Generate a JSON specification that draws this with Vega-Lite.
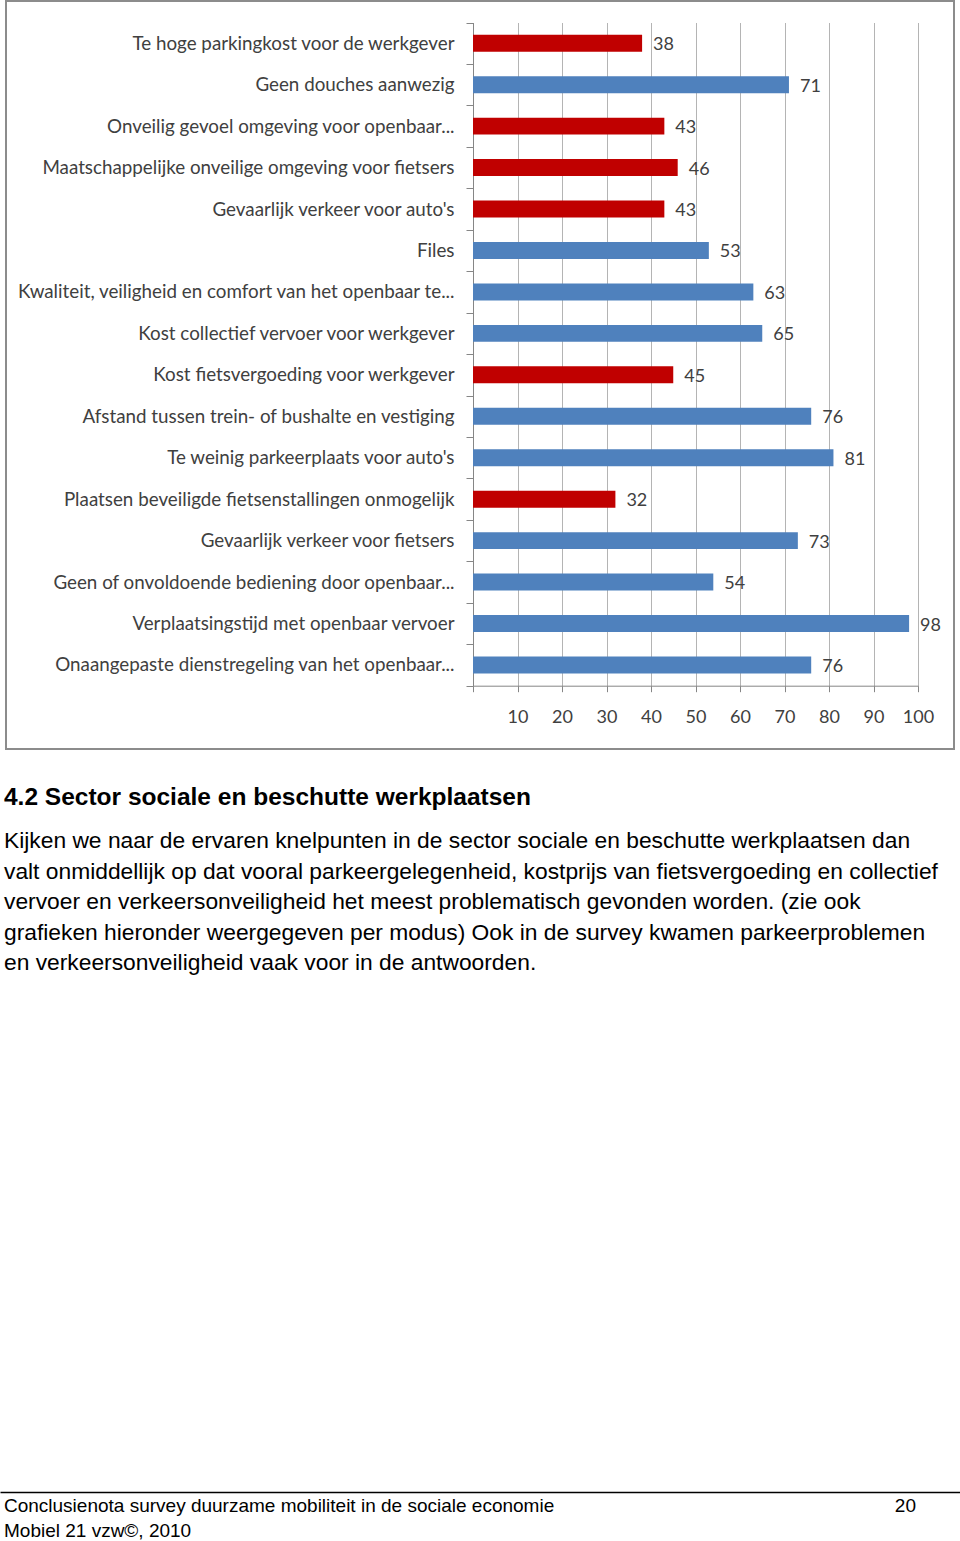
{
  "$schema": "https://vega.github.io/schema/vega-lite/v6.json",
  "background": "white",
  "padding": {"left": 3, "top": -9, "right": 0, "bottom": 0},
  "spacing": 34,
  "config": {
    "font": "Liberation Sans",
    "view": {"stroke": null}
  },
  "datasets": {
    "knelpunten": [
      {"knelpunt": "Te hoge parkingkost voor de werkgever", "percentage": 38},
      {"knelpunt": "Geen douches aanwezig", "percentage": 71},
      {"knelpunt": "Onveilig gevoel omgeving voor openbaar...", "percentage": 43},
      {"knelpunt": "Maatschappelijke onveilige omgeving voor fietsers", "percentage": 46},
      {"knelpunt": "Gevaarlijk verkeer voor auto's", "percentage": 43},
      {"knelpunt": "Files", "percentage": 53},
      {"knelpunt": "Kwaliteit, veiligheid en comfort van het openbaar te...", "percentage": 63},
      {"knelpunt": "Kost collectief vervoer voor werkgever", "percentage": 65},
      {"knelpunt": "Kost fietsvergoeding voor werkgever", "percentage": 45},
      {"knelpunt": "Afstand tussen trein- of bushalte en vestiging", "percentage": 76},
      {"knelpunt": "Te weinig parkeerplaats voor auto's", "percentage": 81},
      {"knelpunt": "Plaatsen beveiligde fietsenstallingen onmogelijk", "percentage": 32},
      {"knelpunt": "Gevaarlijk verkeer voor fietsers", "percentage": 73},
      {"knelpunt": "Geen of onvoldoende bediening door openbaar...", "percentage": 54},
      {"knelpunt": "Verplaatsingstijd met openbaar vervoer", "percentage": 98},
      {"knelpunt": "Onaangepaste dienstregeling van het openbaar...", "percentage": 76}
    ],
    "voettekst": [
      {"tekst": "Conclusienota survey duurzame mobiliteit in de sociale economie", "kolom": "links", "regel": 1},
      {"tekst": "20", "kolom": "rechts", "regel": 1},
      {"tekst": "Mobiel 21 vzw©, 2010", "kolom": "links", "regel": 2}
    ]
  },
  "vconcat": [
    {
      "width": 948,
      "height": 748,
      "view": {"stroke": "#8c8c8c", "strokeWidth": 2},
      "data": {"name": "knelpunten"},
      "encoding": {
        "y": {
          "field": "knelpunt",
          "type": "nominal",
          "sort": null,
          "scale": {"range": [21.5, 684.7], "paddingInner": 0, "paddingOuter": 0},
          "axis": {
            "orient": "left",
            "offset": -467,
            "title": null,
            "grid": false,
            "domainColor": "#868686",
            "tickColor": "#868686",
            "tickSize": 7,
            "tickBand": "extent",
            "labelPadding": 12,
            "labelFont": "Lato",
            "labelFontSize": 18.8,
            "labelColor": "#404040",
            "labelLimit": 470
          }
        }
      },
      "layer": [
        {
          "mark": {"type": "bar", "height": {"band": 0.41}},
          "encoding": {
            "x": {
              "field": "percentage",
              "type": "quantitative",
              "scale": {"domain": [0, 100], "range": [467, 912]},
              "axis": {
                "orient": "bottom",
                "offset": -63.3,
                "title": null,
                "values": [0, 10, 20, 30, 40, 50, 60, 70, 80, 90, 100],
                "labelExpr": "datum.value === 0 ? '' : datum.label",
                "grid": false,
                "domainColor": "#868686",
                "tickColor": "#868686",
                "tickSize": 6,
                "labelPadding": 17,
                "labelFont": "Lato",
                "labelFontSize": 18,
                "labelColor": "#404040",
                "labelFlush": false
              }
            },
            "color": {
              "condition": {"test": "datum.percentage < 50", "value": "#C00000"},
              "value": "#4F81BD"
            }
          }
        },
        {
          "mark": {"type": "text", "align": "left", "dx": 11, "dy": 2, "font": "Lato", "fontSize": 18, "color": "#404040"},
          "encoding": {
            "x": {
              "field": "percentage",
              "type": "quantitative",
              "axis": {
                "orient": "top",
                "title": null,
                "values": [10, 20, 30, 40, 50, 60, 70, 80, 90, 100],
                "grid": true,
                "gridColor": "#b4b4b4",
                "domain": false,
                "ticks": false,
                "labels": false
              }
            },
            "text": {"field": "percentage", "type": "quantitative"}
          }
        }
      ],
      "resolve": {"axis": {"x": "independent"}}
    },
    {
      "width": 948,
      "height": 49,
      "title": {
        "text": "4.2 Sector sociale en beschutte werkplaatsen",
        "subtitle": [
          "Kijken we naar de ervaren knelpunten in de sector sociale en beschutte werkplaatsen dan",
          "valt onmiddellijk op dat vooral parkeergelegenheid, kostprijs van fietsvergoeding en collectief",
          "vervoer en verkeersonveiligheid het meest problematisch gevonden worden. (zie ook",
          "grafieken hieronder weergegeven per modus) Ook in de survey kwamen parkeerproblemen",
          "en verkeersonveiligheid vaak voor in de antwoorden."
        ],
        "anchor": "start",
        "dx": 0,
        "font": "Liberation Sans",
        "fontSize": 24.5,
        "fontWeight": "bold",
        "color": "black",
        "subtitleFont": "Liberation Sans",
        "subtitleFontSize": 22.8,
        "subtitleColor": "black",
        "subtitleLineHeight": 30.5,
        "subtitlePadding": 20,
        "offset": 516
      },
      "data": {"name": "voettekst"},
      "encoding": {
        "x": {
          "field": "kolom",
          "type": "nominal",
          "scale": {"type": "point", "domain": ["links", "rechts"], "range": [-6, 954], "padding": 0.0263, "align": 0.083},
          "axis": {"orient": "top", "labels": false, "ticks": false, "grid": false, "title": null, "domainColor": "black", "domainWidth": 1.5}
        },
        "y": {
          "field": "regel",
          "type": "ordinal",
          "scale": {"type": "point", "domain": [1, 2], "range": [14, 39], "padding": 0},
          "axis": null
        },
        "text": {"field": "tekst", "type": "nominal"}
      },
      "layer": [
        {
          "transform": [{"filter": "datum.kolom === 'links'"}],
          "mark": {"type": "text", "align": "left", "font": "Liberation Sans", "fontSize": 19, "color": "black"}
        },
        {
          "transform": [{"filter": "datum.kolom === 'rechts'"}],
          "mark": {"type": "text", "align": "right", "font": "Liberation Sans", "fontSize": 19, "color": "black"}
        }
      ]
    }
  ]
}
